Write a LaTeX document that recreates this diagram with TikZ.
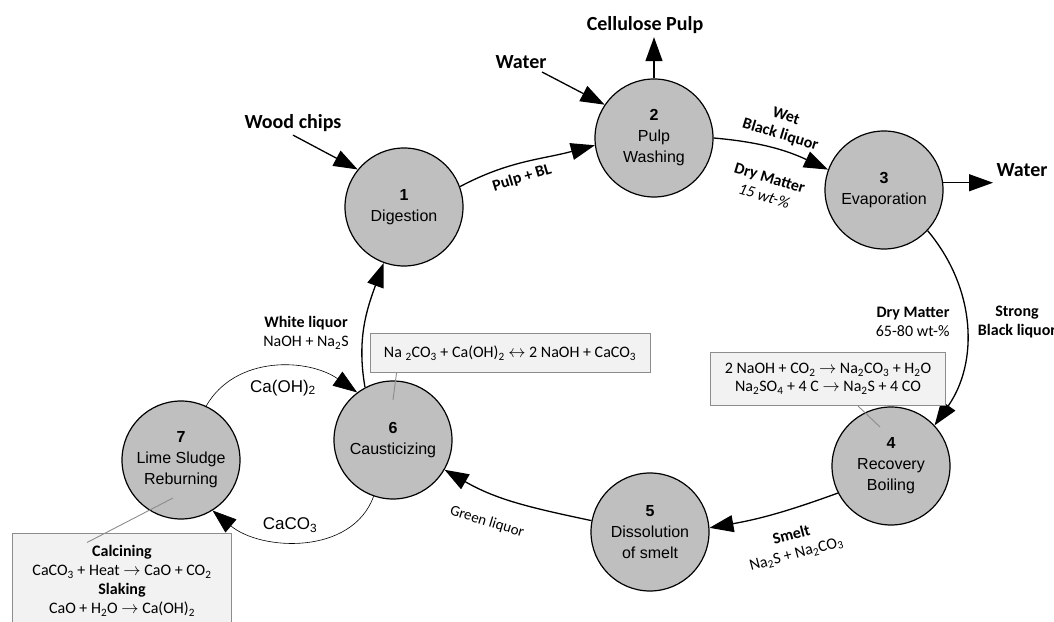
\documentclass[tikz,border=0pt]{standalone}
\usepackage{fontspec}
\setmainfont{Carlito}
\newfontfamily\arialfont{Liberation Sans}
\usetikzlibrary{arrows.meta}
\definecolor{procgray}{RGB}{191,191,191}
\definecolor{notefill}{RGB}{242,242,242}
\definecolor{notegray}{RGB}{140,140,140}

\begin{document}
\begin{tikzpicture}[x=1pt,y=1pt,
  proc/.style={circle,draw,line width=1.2pt,fill=procgray,minimum size=118pt,
    inner sep=0pt,align=center,font=\arialfont\fontsize{16}{21}\selectfont},
  flow/.style={line width=1.3pt,-{Triangle[length=24pt,width=17pt]}},
  thinflow/.style={line width=0.6pt,-{Triangle[length=24pt,width=17pt]}},
  note/.style={draw=notegray,line width=1pt,fill=notefill,align=center,
    font=\fontsize{16}{18}\selectfont},
  tie/.style={notegray,line width=0.9pt},
  lbl/.style={font=\bfseries\fontsize{16}{19}\selectfont,align=center},
  feed/.style={font=\bfseries\fontsize{20}{22}\selectfont},
  chem/.style={font=\arialfont\fontsize{17}{19}\selectfont}]
  \useasboundingbox (0,0) rectangle (1054,621);

  % process steps
  \node[proc] (dig)  at (404,414) {\textbf{1}\\Digestion};
  \node[proc] (wash) at (654,483) {\textbf{2}\\Pulp\\Washing};
  \node[proc] (evap) at (884,431) {\textbf{3}\\Evaporation};
  \node[proc] (boil) at (891,155) {\textbf{4}\\Recovery\\Boiling};
  \node[proc] (diss) at (650,89)  {\textbf{5}\\Dissolution\\of smelt};
  \node[proc] (caus) at (393,181) {\textbf{6}\\Causticizing};
  \node[proc] (lime) at (181,161) {\textbf{7}\\Lime Sludge\\Reburning};

  % feeds and products
  \node[feed] (wood)     at (293,498) {Wood chips};
  \node[feed] (waterin)  at (521,559) {Water};
  \node[feed] (pulp)     at (645,596) {Cellulose Pulp};
  \node[feed] (waterout) at (1022,451) {Water};
  \coordinate (w1) at (542,549);
  \draw[flow] (wood.south) -- (dig.141);
  \draw[flow] (w1) -- (wash.146);
  \draw[flow] (wash.north) -- (wash.north |- pulp.south);
  \draw[flow] (evap.7) -- (evap.7 -| waterout.west);

  % main loop
  \draw[flow] (dig.20) to[out=28,in=195] (wash.187);
  \draw[flow] (wash.0) to[out=-5,in=155] (evap.160);
  \draw[flow] (evap.-43) to[out=-50,in=55] (boil.43);
  \draw[flow] (boil.207) to[out=200,in=10] (diss.4);
  \draw[flow] (diss.169) to[out=168,in=-30] (caus.-30);
  \draw[flow] (caus.118) to[out=100,in=250] (dig.250);

  % lime loop
  \draw[thinflow] (lime.65) to[out=60,in=145] (caus.127);
  \draw[thinflow] (caus.251) to[out=250,in=-40] (lime.-58);
  \node[chem] (caoh) at (283,233) {Ca(OH)\textsubscript{2}};
  \node[chem] (caco) at (290,96)  {CaCO\textsubscript{3}};

  % stream labels
  \node[lbl,rotate=17]  (pbl) at (522,443) {Pulp + BL};
  \node[lbl,rotate=-17] (wbl) at (783,495) {Wet\\Black liquor};
  \node[lbl,rotate=-17] (dm1) at (767,434) {Dry Matter\\\mdseries\itshape 15 wt-\%};
  \node[lbl,align=right,anchor=east] (dm2) at (953,299) {Dry Matter\\\mdseries 65-80 wt-\%};
  \node[lbl] (sbl) at (1017,299) {Strong\\Black liquor};
  \node[lbl,rotate=15] (smelt) at (794,76)
    {Smelt\\\mdseries Na\textsubscript{2}S + Na\textsubscript{2}CO\textsubscript{3}};
  \node[font=\fontsize{15}{18}\selectfont,rotate=-17] (green) at (487,99) {Green liquor};
  \node[lbl] (white) at (306,288) {White liquor\\\mdseries NaOH + Na\textsubscript{2}S};

  % reactions
  \node[note,minimum width=280pt,minimum height=39pt] (n6) at (510,268)
    {Na \textsubscript{2}CO\textsubscript{3} + Ca(OH)\textsubscript{2} $\leftrightarrow$ 2 NaOH + CaCO\textsubscript{3}};
  \node[note,minimum width=235pt,minimum height=53pt] (n4) at (828,242)
    {2 NaOH + CO\textsubscript{2} $\rightarrow$ Na\textsubscript{2}CO\textsubscript{3} + H\textsubscript{2}O\\
     Na\textsubscript{2}SO\textsubscript{4} + 4 C $\rightarrow$ Na\textsubscript{2}S + 4 CO};
  \node[note,minimum width=219pt,minimum height=96pt,font=\fontsize{16}{19}\selectfont] (n7) at (122,40)
    {\textbf{Calcining}\\CaCO\textsubscript{3} + Heat $\rightarrow$ CaO + CO\textsubscript{2}\\
     \textbf{Slaking}\\CaO + H\textsubscript{2}O $\rightarrow$ Ca(OH)\textsubscript{2}};
  \coordinate (p6) at (393,221);
  \coordinate (p4) at (880,194);
  \coordinate (p7) at (173,123);
  \draw[tie] ([xshift=27pt]n6.south west) -- (p6);
  \draw[tie] ([xshift=148pt]n4.south west) -- (p4);
  \draw[tie] ([xshift=75pt,yshift=-10pt]n7.north west) -- (p7);
\end{tikzpicture}
\end{document}
